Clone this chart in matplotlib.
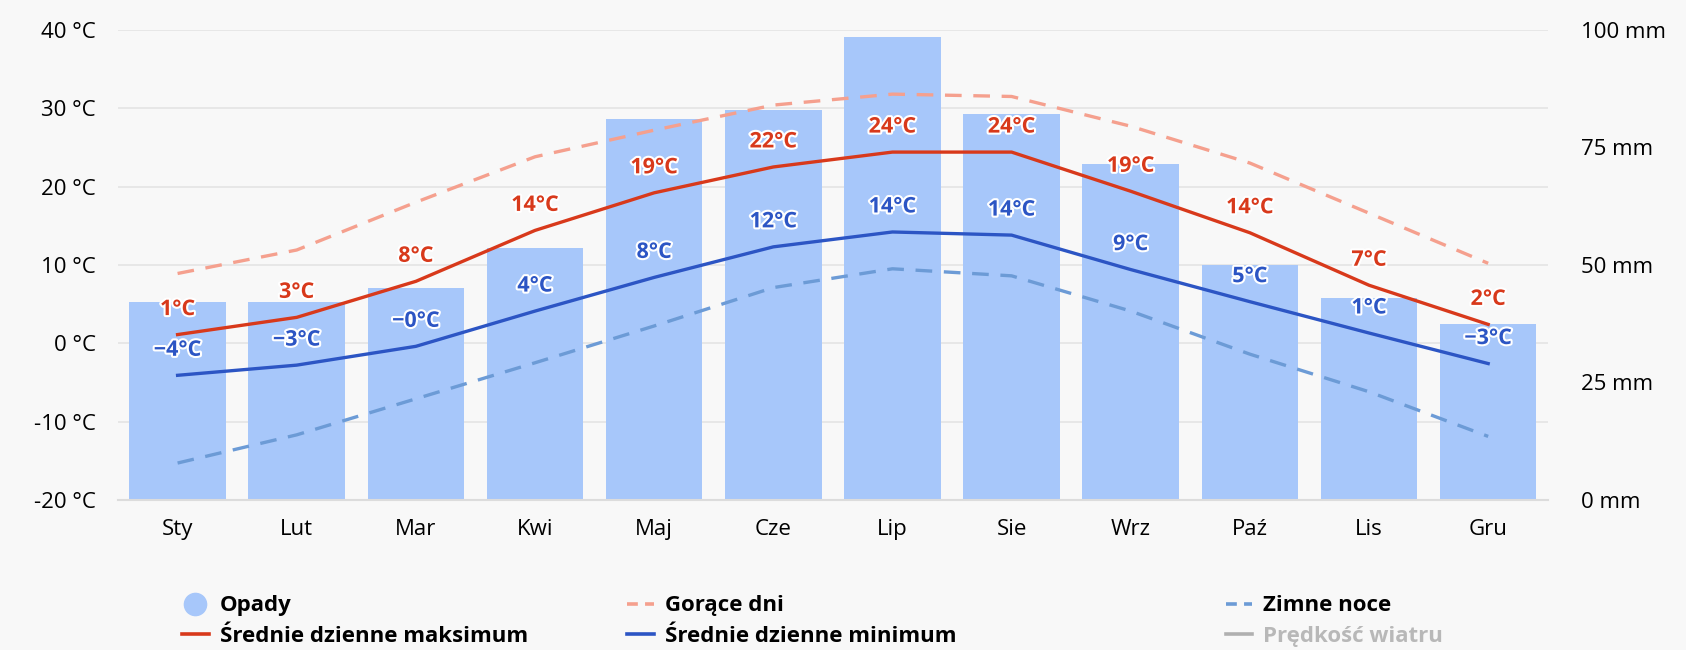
import matplotlib
matplotlib.use("Agg")
import matplotlib.pyplot as plt
import matplotlib.patheffects as pe
from matplotlib.lines import Line2D
import numpy as np

plt.rcParams['font.family'] = ['Open Sans', 'DejaVu Sans']

# dane klimatyczne
months = ["Sty", "Lut", "Mar", "Kwi", "Maj", "Cze", "Lip", "Sie", "Wrz", "Paź", "Lis", "Gru"]
precip_mm = [42, 42, 45, 53.5, 81, 83, 98.5, 82, 71.5, 50, 43, 37.5]
temp_max = [1.1, 3.3, 7.9, 14.4, 19.2, 22.5, 24.4, 24.4, 19.4, 14.1, 7.4, 2.4]
temp_min = [-4.1, -2.8, -0.4, 4.1, 8.4, 12.3, 14.2, 13.8, 9.4, 5.3, 1.3, -2.6]
hot_days = [8.9, 11.9, 18.0, 23.8, 27.2, 30.4, 31.8, 31.5, 27.7, 23.0, 16.6, 10.2]
cold_nights = [-15.3, -11.7, -7.1, -2.5, 2.2, 7.1, 9.5, 8.6, 4.1, -1.4, -6.2, -11.9]

BG = "#f8f8f8"
BAR = "#a7c7fa"
RED = "#d8391b"
BLUE = "#2c55c4"
SALMON = "#f5a08e"
LBLUE = "#6c9bd6"

T_LOW, T_HIGH = -20, 40
MM_HIGH = 100


def c2mm(t):
    return (np.asarray(t, dtype=float) - T_LOW) * MM_HIGH / (T_HIGH - T_LOW)


def mm2c(m):
    return np.asarray(m, dtype=float) * (T_HIGH - T_LOW) / MM_HIGH + T_LOW


def fmt(v):
    r = int(round(v))
    if r == 0 and v < 0:
        return "−0°C"
    return ("%d°C" % r).replace("-", "−")


fig = plt.figure(figsize=(16.86, 6.5), dpi=100, facecolor=BG)
ax = fig.add_axes([0.070, 0.231, 0.848, 0.723])
ax.set_facecolor(BG)

x = np.arange(len(months))

# opady jako słupki na skali prawej osi
ax.bar(x, mm2c(precip_mm) - T_LOW, bottom=T_LOW, width=0.81, color=BAR, zorder=1)

ax.plot(x, hot_days, color=SALMON, lw=2.4, ls=(0, (5, 3.5)), zorder=2)
ax.plot(x, cold_nights, color=LBLUE, lw=2.4, ls=(0, (5, 3.5)), zorder=2)
ax.plot(x, temp_max, color=RED, lw=2.4, zorder=3)
ax.plot(x, temp_min, color=BLUE, lw=2.4, zorder=3)

halo = [pe.withStroke(linewidth=3, foreground="white")]
for i in range(len(months)):
    ax.annotate(fmt(temp_max[i]), (x[i], temp_max[i]), xytext=(0, 18),
                textcoords="offset points", ha="center", va="center",
                fontsize=15.5, fontweight="bold", color=RED, path_effects=halo, zorder=5)
    ax.annotate(fmt(temp_min[i]), (x[i], temp_min[i]), xytext=(0, 18),
                textcoords="offset points", ha="center", va="center",
                fontsize=15.5, fontweight="bold", color=BLUE, path_effects=halo, zorder=5)

ax.set_xlim(-0.5, len(months) - 0.5)
ax.set_ylim(T_LOW, T_HIGH)
ax.set_yticks(range(-20, 41, 10))
ax.set_yticklabels(["%d °C" % v for v in range(-20, 41, 10)], fontsize=16)
ax.set_xticks(x)
ax.set_xticklabels(months, fontsize=16)
ax.tick_params(axis="both", length=0)
ax.tick_params(axis="y", pad=16)
ax.tick_params(axis="x", pad=14)
ax.grid(axis="y", color="#e4e4e4", lw=1.2, zorder=0)
ax.set_axisbelow(True)
for s in ["top", "right", "left"]:
    ax.spines[s].set_visible(False)
ax.spines["bottom"].set_color("#dcdcdc")
ax.spines["bottom"].set_linewidth(1.5)

sec = ax.secondary_yaxis("right", functions=(c2mm, mm2c))
sec.set_yticks([0, 25, 50, 75, 100])
sec.set_yticklabels(["%d mm" % v for v in [0, 25, 50, 75, 100]], fontsize=16)
sec.tick_params(length=0, pad=24)
sec.spines["right"].set_visible(False)

# legenda w trzech kolumnach
cols = [
    [(Line2D([], [], ls="none", marker="o", ms=16, color=BAR), "Opady", "black"),
     (Line2D([], [], color=RED, lw=2.6), "Średnie dzienne maksimum", "black")],
    [(Line2D([], [], color=SALMON, lw=2.6, ls=(0, (3, 2))), "Gorące dni", "black"),
     (Line2D([], [], color=BLUE, lw=2.6), "Średnie dzienne minimum", "black")],
    [(Line2D([], [], color=LBLUE, lw=2.6, ls=(0, (3, 2))), "Zimne noce", "black"),
     (Line2D([], [], color="#b0b0b0", lw=2.6), "Prędkość wiatru", "#b8b8b8")],
]
for xpos, col in zip([0.108, 0.372, 0.727], cols):
    leg = fig.legend([c[0] for c in col], [c[1] for c in col], loc="upper left",
                     bbox_to_anchor=(xpos, 0.084), frameon=False, borderpad=0,
                     borderaxespad=0, handlelength=1.2, handletextpad=0.5,
                     labelspacing=0.42, prop={"size": 16, "weight": "bold"})
    for t, c in zip(leg.get_texts(), col):
        t.set_color(c[2])

fig.savefig("out.png", dpi=100, facecolor=BG)
